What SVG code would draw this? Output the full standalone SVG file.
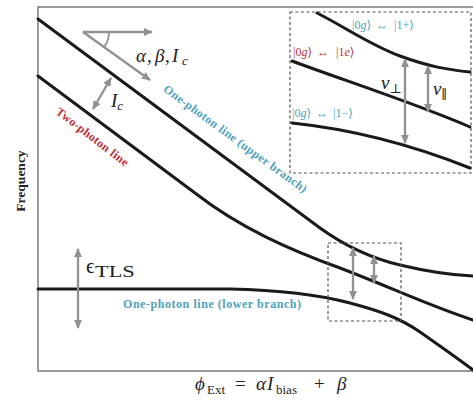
<svg xmlns="http://www.w3.org/2000/svg" width="473" height="403" viewBox="0 0 473 403">
<defs>
<marker id="ah" viewBox="0 0 10 10" refX="9" refY="5" markerWidth="9" markerHeight="8" markerUnits="userSpaceOnUse" orient="auto-start-reverse" preserveAspectRatio="none">
<path d="M0,0 L10,5 L0,10 Z" fill="#909095"/>
</marker>
<style>
.frame{stroke:#7a7a7a;stroke-width:1.5;fill:none}
.curve{stroke:#1a1a1a;stroke-width:3;fill:none;stroke-linecap:round}
.dash{stroke:#555;stroke-width:1.2;fill:none;stroke-dasharray:3,2.5}
.garrow{stroke:#909095;stroke-width:2.3;fill:none}
.math{font-family:"Liberation Serif","DejaVu Serif",serif;fill:#222}
.it{font-style:italic}
.lab{font-family:"Liberation Serif","DejaVu Serif",serif;font-weight:bold;font-size:12px}
.teal{fill:#4ea2ba}
.red{fill:#c0303a}
.ket{font-family:"Liberation Serif","DejaVu Serif",serif;font-size:12px}
</style>
</defs>
<rect width="473" height="403" fill="#fff"/>
<g id="axes">
<path class="frame" d="M473,7 L38,7 L38,371 L473,371"/>
<text class="lab" style="font-size:13.5px;fill:#222" transform="translate(25,181) rotate(-90)" text-anchor="middle">Frequency</text>
<text class="math" font-size="19" y="390"><tspan class="it" x="195">ϕ</tspan><tspan font-size="13" x="207" dy="4">Ext</tspan><tspan x="235" dy="-4">=</tspan><tspan class="it" x="256">α</tspan><tspan class="it" x="267">I</tspan><tspan font-size="13" x="276" dy="4">bias</tspan><tspan x="314" dy="-4">+</tspan><tspan class="it" x="337">β</tspan></text>
</g>
<g id="connectors">
<path id="upper-branch" class="curve" d="M38,19 L320,228 C345,246 370,258 400,265 C425,271 450,275 473,276"/>
<path id="two-photon" class="curve" d="M38,76 L195,193 C240,228 290,250 340,268 C390,287 430,306 473,320"/>
<path id="lower-branch" class="curve" d="M38,289 L230,289 C280,290 320,295 350,303 C380,311 400,318 420,332 C440,346 460,360 473,370"/>
</g>
<g id="zoom-box">
<rect class="dash" x="328" y="243" width="73" height="78"/>
<line class="garrow" x1="353" y1="248" x2="353" y2="299" marker-start="url(#ah)" marker-end="url(#ah)"/>
<line class="garrow" x1="374" y1="256" x2="374" y2="283" marker-start="url(#ah)" marker-end="url(#ah)"/>
</g>
<g id="inset">
<rect class="dash" x="290" y="12" width="181" height="161"/>
<path class="curve" d="M317,13 C345,27 370,45 400,56 C430,67 450,70 470,72"/>
<path class="curve" d="M292,61 C340,79 420,105 470,127"/>
<path class="curve" d="M292,123 C340,128 400,140 470,168"/>
<text class="ket teal" y="29"><tspan x="352">|0<tspan class="it">g</tspan>⟩</tspan><tspan x="376">↔</tspan><tspan x="394">|1+⟩</tspan></text>
<text class="ket red" y="56"><tspan x="293">|0<tspan class="it">g</tspan>⟩</tspan><tspan x="317">↔</tspan><tspan x="336">|1<tspan class="it">e</tspan>⟩</tspan></text>
<text class="ket teal" y="117"><tspan x="292">|0<tspan class="it">g</tspan>⟩</tspan><tspan x="316">↔</tspan><tspan x="333">|1−⟩</tspan></text>
<line class="garrow" x1="405" y1="59" x2="405" y2="143" marker-start="url(#ah)" marker-end="url(#ah)"/>
<line class="garrow" x1="428" y1="66" x2="428" y2="112" marker-start="url(#ah)" marker-end="url(#ah)"/>
<text class="math" font-size="19" x="381" y="89"><tspan class="it">v</tspan><tspan font-size="13" dy="4">⊥</tspan></text>
<text class="math" font-size="19" x="433" y="95"><tspan class="it">v</tspan><tspan font-size="13" dy="4">∥</tspan></text>
</g>
<g id="params">
<line class="garrow" x1="83" y1="32" x2="152" y2="32" marker-end="url(#ah)"/>
<line class="garrow" x1="83" y1="32" x2="150" y2="80" marker-end="url(#ah)"/>
<path class="garrow" style="stroke-width:1.8" d="M109,32 A26,26 0 0 1 104.1,47.2"/>
<text class="math" font-size="19" y="62"><tspan class="it" x="136">α</tspan><tspan x="147">,</tspan><tspan class="it" x="155">β</tspan><tspan x="165">,</tspan><tspan class="it" x="172">I</tspan><tspan class="it" font-size="13" x="182" dy="3">c</tspan></text>
</g>
<g id="ic">
<line class="garrow" x1="111" y1="78" x2="93" y2="109" marker-start="url(#ah)" marker-end="url(#ah)"/>
<text class="math" font-size="19" x="111" y="107"><tspan class="it">I</tspan><tspan class="it" font-size="13" dy="3">c</tspan></text>
</g>
<g id="tls">
<line class="garrow" x1="78" y1="249" x2="78" y2="328" marker-start="url(#ah)" marker-end="url(#ah)"/>
<text class="math" font-size="21" x="86" y="273">ϵ</text>
<text class="math" font-size="16" transform="translate(95,277) scale(1.4,1)">TLS</text>
</g>
<g id="labels">
<text class="lab teal" x="212" y="308" text-anchor="middle" textLength="178">One-photon line (lower branch)</text>
<text class="lab teal" transform="translate(233,142) rotate(36)" text-anchor="middle" textLength="174">One-photon line (upper branch)</text>
<text class="lab red" transform="translate(90,140) rotate(37.5)" text-anchor="middle" textLength="88">Two-photon line</text>
</g>
</svg>
